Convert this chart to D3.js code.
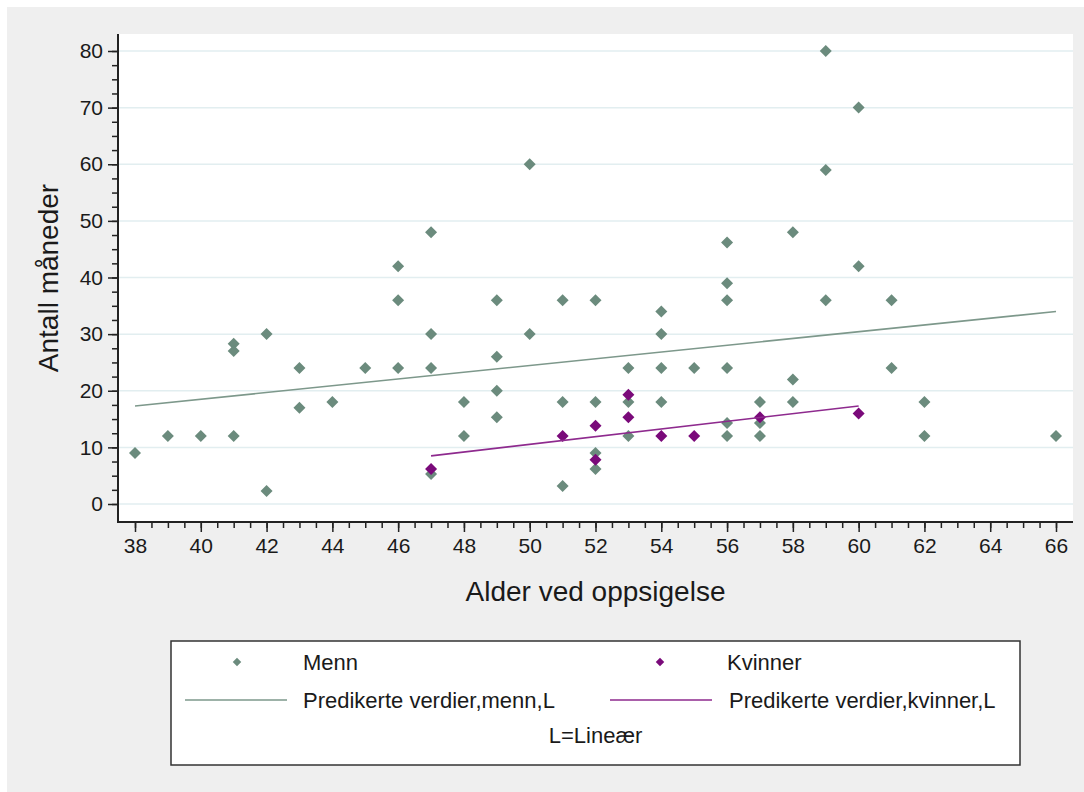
<!DOCTYPE html>
<html lang="no">
<head>
    <meta charset="UTF-8">
    <title>Alder ved oppsigelse</title>
    <script src="https://cdn.jsdelivr.net/npm/d3@7"></script>
    <style>
        body { margin: 0; background: #fff; }
        svg { display: block; font-family: "Liberation Sans", Arial, sans-serif; }
        .tick text { fill: #1a1a1a; }
    </style>
</head>
<body>
<div id="graphArea"></div>
<script>
// menn: alder og antall måneder
let menAge = [38, 39, 40, 41, 41, 41, 42, 42, 43, 43, 44, 45, 46, 46, 46,
    47, 47, 47, 47, 48, 48, 49, 49, 49, 49, 50, 50, 51, 51, 51,
    52, 52, 52, 52, 53, 53, 53, 54, 54, 54, 54, 55,
    56, 56, 56, 56, 56, 56, 57, 57, 57, 58, 58, 58, 59, 59, 59,
    60, 60, 61, 61, 62, 62, 66]
let menMonths = [9, 12, 12, 28.3, 27, 12, 30, 2.3, 24, 17, 18, 24, 42, 36, 24,
    48, 30, 24, 5.3, 18, 12, 36, 26, 20, 15.3, 60, 30, 36, 18, 3.2,
    36, 18, 9, 6.2, 24, 18, 12, 34, 30, 24, 18, 24,
    46.2, 39, 36, 24, 14.3, 12, 18, 14.3, 12, 48, 22, 18, 80, 59, 36,
    70, 42, 36, 24, 18, 12, 12]

// kvinner
let womenAge = [47, 51, 52, 52, 53, 53, 54, 55, 57, 60]
let womenMonths = [6.2, 12, 13.8, 7.8, 19.3, 15.3, 12, 12, 15.3, 16]

// predikerte verdier (lineær)
let menFitAge = [38, 66]
let menFitMonths = [17.3, 34.0]
let womenFitAge = [47, 60]
let womenFitMonths = [8.5, 17.3]

let xTicks = d3.range(38, 67, 2)
let yTicks = d3.range(0, 81, 10)

let menColor = '#6b8b7d'
let menLineColor = '#7d988b'
let womenColor = '#7a0a7a'
let womenLineColor = '#8e2a8e'

let W = 1084, H = 792
let plotLeft = 118, plotRight = 1073, plotTop = 34, plotBottom = 522

let svg = d3.select('#graphArea').append('svg').attr('width', W).attr('height', H)

// bakgrunn
svg.append('rect').attr('x', 7).attr('y', 7).attr('width', W - 7).attr('height', H - 7).attr('fill', '#efefef')
svg.append('rect').attr('x', plotLeft).attr('y', plotTop)
    .attr('width', plotRight - plotLeft).attr('height', plotBottom - plotTop).attr('fill', '#fff')

let x = d3.scaleLinear().domain([38, 66]).range([135, 1056])
let y = d3.scaleLinear().domain([0, 80]).range([504, 51])

// rutenett
svg.append('g').selectAll('line').data(yTicks).enter().append('line')
    .attr('x1', plotLeft).attr('x2', plotRight)
    .attr('y1', d => y(d)).attr('y2', d => y(d))
    .attr('stroke', '#e2eef0').attr('stroke-width', 1.5)

// y-akse
svg.append('g').attr('transform', `translate(${plotLeft},0)`)
    .call(d3.axisLeft(y).tickValues(d3.range(0, 80.1, 2.5)).tickSize(6).tickFormat(''))
let yMajor = svg.append('g').attr('transform', `translate(${plotLeft},0)`)
    .call(d3.axisLeft(y).tickValues(yTicks).tickSize(10).tickPadding(5))
yMajor.selectAll('text').style('font-size', '21px')

// x-akse
svg.append('g').attr('transform', `translate(0,${plotBottom})`)
    .call(d3.axisBottom(x).tickValues(d3.range(38, 66.1, 0.5)).tickSize(6).tickFormat(''))
let xMajor = svg.append('g').attr('transform', `translate(0,${plotBottom})`)
    .call(d3.axisBottom(x).tickValues(xTicks).tickSize(10).tickPadding(6))
xMajor.selectAll('text').style('font-size', '21px')

svg.selectAll('.domain').remove()
svg.selectAll('.tick line').attr('stroke', '#222').attr('stroke-width', 1.5)

svg.append('line').attr('x1', plotLeft).attr('x2', plotLeft).attr('y1', plotTop).attr('y2', plotBottom + 1)
    .attr('stroke', '#222').attr('stroke-width', 2)
svg.append('line').attr('x1', plotLeft).attr('x2', plotRight).attr('y1', plotBottom).attr('y2', plotBottom)
    .attr('stroke', '#222').attr('stroke-width', 2)

// aksetitler
svg.append('text').attr('x', (plotLeft + plotRight) / 2).attr('y', 601)
    .attr('text-anchor', 'middle').style('font-size', '28px').attr('fill', '#1a1a1a')
    .text('Alder ved oppsigelse')
svg.append('text').attr('transform', `translate(58,${(plotTop + plotBottom) / 2}) rotate(-90)`)
    .attr('text-anchor', 'middle').style('font-size', '28px').attr('fill', '#1a1a1a')
    .text('Antall måneder')

// punkter
let diamond = d3.symbol().type(d3.symbolSquare).size(72)

svg.append('g').selectAll('path').data(menAge).enter().append('path')
    .attr('d', diamond)
    .attr('transform', (d, i) => `translate(${x(d)},${y(menMonths[i])}) rotate(45)`)
    .attr('fill', menColor)

svg.append('g').selectAll('path').data(womenAge).enter().append('path')
    .attr('d', diamond)
    .attr('transform', (d, i) => `translate(${x(d)},${y(womenMonths[i])}) rotate(45)`)
    .attr('fill', womenColor)

// regresjonslinjer
let fitLine = (ages, vals) => d3.line()(ages.map((a, i) => [x(a), y(vals[i])]))
svg.append('path').attr('d', fitLine(menFitAge, menFitMonths))
    .attr('fill', 'none').attr('stroke', menLineColor).attr('stroke-width', 1.6)
svg.append('path').attr('d', fitLine(womenFitAge, womenFitMonths))
    .attr('fill', 'none').attr('stroke', womenLineColor).attr('stroke-width', 1.6)

// forklaring
let legend = svg.append('g')
legend.append('rect').attr('x', 171).attr('y', 641).attr('width', 849).attr('height', 124)
    .attr('fill', '#fff').attr('stroke', '#333').attr('stroke-width', 1.5)

let small = d3.symbol().type(d3.symbolSquare).size(36)
let legendItems = [
    {kind: 'dot', color: menColor, sx: 237, tx: 303, ty: 662, label: 'Menn'},
    {kind: 'dot', color: womenColor, sx: 660, tx: 727, ty: 662, label: 'Kvinner'},
    {kind: 'line', color: menLineColor, sx: 185, ex: 287, tx: 303, ty: 700, label: 'Predikerte verdier,menn,L'},
    {kind: 'line', color: womenLineColor, sx: 610, ex: 712, tx: 729, ty: 700, label: 'Predikerte verdier,kvinner,L'}
]
legendItems.forEach(it => {
    if (it.kind == 'dot') {
        legend.append('path').attr('d', small)
            .attr('transform', `translate(${it.sx},${it.ty}) rotate(45)`).attr('fill', it.color)
    } else {
        legend.append('line').attr('x1', it.sx).attr('x2', it.ex).attr('y1', it.ty).attr('y2', it.ty)
            .attr('stroke', it.color).attr('stroke-width', 1.6)
    }
    legend.append('text').attr('x', it.tx).attr('y', it.ty).attr('dy', '0.35em')
        .style('font-size', '22px').attr('fill', '#1a1a1a').text(it.label)
})
legend.append('text').attr('x', (plotLeft + plotRight) / 2).attr('y', 735).attr('dy', '0.35em')
    .attr('text-anchor', 'middle').style('font-size', '22px').attr('fill', '#1a1a1a')
    .text('L=Lineær')
</script>
</body>
</html>
